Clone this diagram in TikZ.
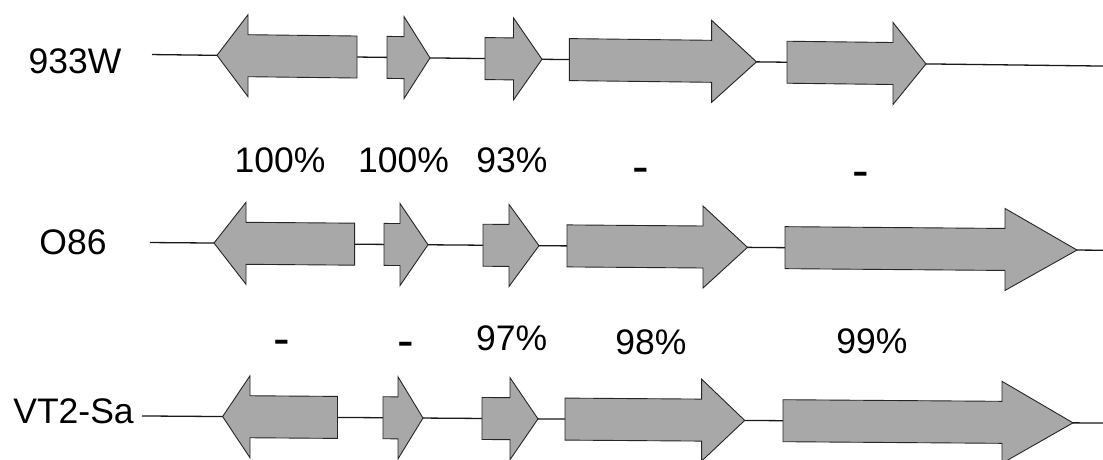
\documentclass[tikz,border=0pt]{standalone}
\usepackage{fontspec}
\setmainfont{Liberation Sans}
\definecolor{genegray}{RGB}{168,168,168}
\tikzset{
  backbone/.style={line width=1.3pt, draw=black!90},
  genebox/.style={fill=genegray, draw=black!85, line width=0.9pt, line join=miter},
  lab/.style={font=\fontsize{35.5}{40}\selectfont, inner sep=0pt, anchor=base},
  dashlab/.style={font=\fontsize{50}{55}\selectfont, inner sep=0pt, anchor=base},
}
% forward gene: body left, head back, tip
\newcommand\genefwd[3]{\path[genebox] (#1,-21) -- (#2,-21) -- (#2,-41) -- (#3,0) -- (#2,41) -- (#2,21) -- (#1,21) -- cycle;}
% reverse gene: tip, head back, body right
\newcommand\generev[3]{\path[genebox] (#1,0) -- (#2,-41) -- (#2,-21) -- (#3,-21) -- (#3,21) -- (#2,21) -- (#2,41) -- cycle;}
\begin{document}
\begin{tikzpicture}[x=1pt,y=-1pt]
\useasboundingbox (0,0) rectangle (1103,459);
\clip (0,0) rectangle (1103,459);
\fill[white] (0,0) rectangle (1103,459);

% row 1: 933W
\begin{scope}[shift={(0,52.7)}, yslant=-0.0121]
  \coordinate (r1s) at (152,0);
  \coordinate (r1e) at (1103,0);
  \draw[backbone] (r1s) -- (r1e);
  \generev{217}{248}{357}
  \genefwd{387}{404}{430}
  \genefwd{485}{513.5}{542}
  \genefwd{569.4}{711.6}{756.5}
  \genefwd{787}{893}{926}
\end{scope}

% row 2: O86
\begin{scope}[shift={(0,241.3)}, yslant=-0.0081]
  \coordinate (r2s) at (150,0);
  \coordinate (r2e) at (1103,0);
  \draw[backbone] (r2s) -- (r2e);
  \generev{214}{246}{354.6}
  \genefwd{384}{400}{428}
  \genefwd{483}{509}{539}
  \genefwd{567}{703}{747.5}
  \genefwd{785}{1005}{1077}
\end{scope}

% row 3: VT2-Sa
\begin{scope}[shift={(0,414.9)}, yslant=-0.0074]
  \coordinate (r3s) at (142,0);
  \coordinate (r3e) at (1103,0);
  \draw[backbone] (r3s) -- (r3e);
  \generev{222.6}{250}{337.5}
  \genefwd{383}{398}{423}
  \genefwd{482}{510}{538}
  \genefwd{565}{701.6}{744.7}
  \genefwd{783}{1002}{1073}
\end{scope}

% strain labels
\node[lab] (n933W) at (75,73) {933W};
\node[lab] (nO86) at (73,254) {O86};
\node[lab] (nVT2) at (73.5,423) {VT2-Sa};

% identity labels, upper
\node[lab] (p11) at (280,172) {100\%};
\node[lab] (p12) at (403.6,172) {100\%};
\node[lab] (p13) at (512,172) {93\%};
\node[dashlab] (p14) at (641,183) {-};
\node[dashlab] (p15) at (861,187.5) {-};

% identity labels, lower
\node[dashlab] (p21) at (282,355.5) {-};
\node[dashlab] (p22) at (406,357.5) {-};
\node[lab] (p23) at (511.6,350) {97\%};
\node[lab] (p24) at (651,354) {98\%};
\node[lab] (p25) at (872,353) {99\%};
\end{tikzpicture}
\end{document}
